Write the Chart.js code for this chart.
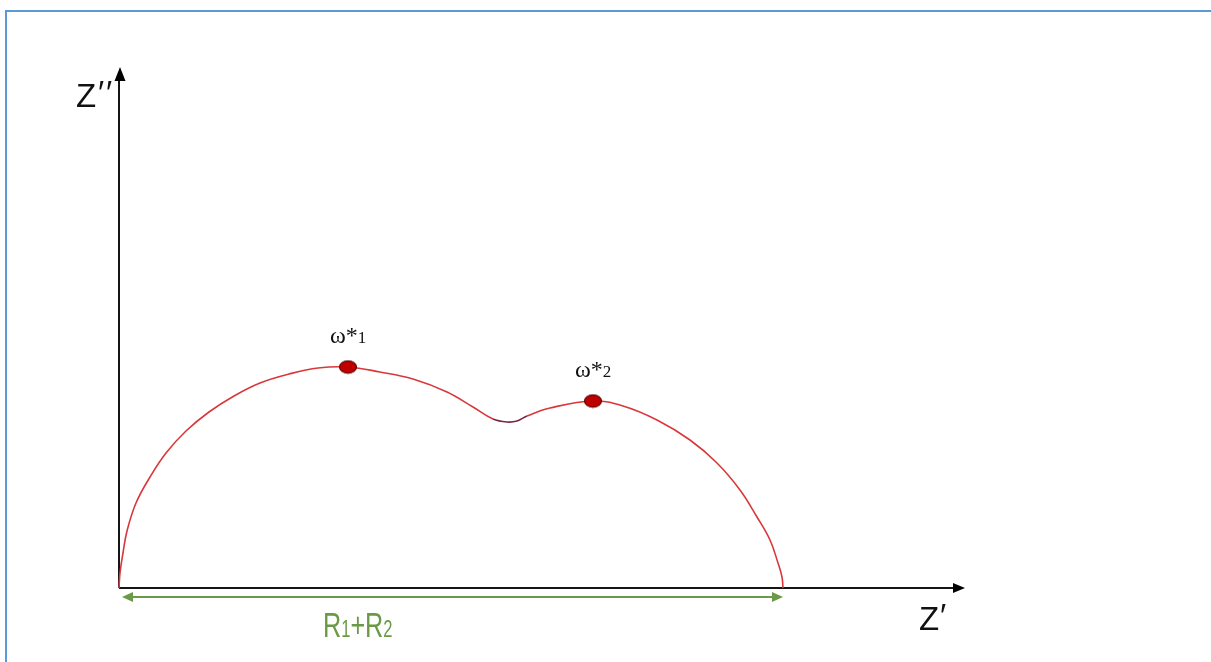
<!DOCTYPE html>
<html>
<head>
<meta charset="utf-8">
<script src="https://cdn.jsdelivr.net/npm/chart.js@4"></script>
<style>
  html, body { margin: 0; padding: 0; background: #fff; }
  #wrap { position: relative; width: 1211px; height: 662px; }
</style>
</head>
<body>
<div id="wrap"><canvas id="nyquist"></canvas></div>
<script>
// Nyquist curve, two depressed arcs (Z' , Z'')
const zReal = [0, 1, 4, 8, 17, 31, 47, 67, 90, 115, 141, 170, 199, 229, 261, 294, 328, 354, 374, 388, 398, 408, 431, 474, 504, 538, 571, 598, 621, 638, 651, 659, 663, 664];
const zImag = [0, 15, 35, 57, 85, 111, 135, 157, 176, 192, 205, 214, 220, 221, 216, 209, 196, 181, 169, 166, 167, 172, 180, 187, 182, 168, 148, 125, 98, 71, 48, 25, 11, 0];

// characteristic frequencies (top of each arc)
const peakReal = [229, 474];
const peakImag = [221, 187];
const peakLabels = ['1', '2'];

// R1 + R2 : low-frequency intercept
const rTotal = 664;

const xMax = 846;
const yMax = 521;

const red = '#D8383A';
const green = '#6A9A46';
const frameBlue = '#5B9BD5';

// elliptical marker
const dot = document.createElement('canvas');
dot.width = 20; dot.height = 15;
(function () {
  const c = dot.getContext('2d');
  c.beginPath();
  c.ellipse(10, 7.5, 8.5, 6.2, 0, 0, Math.PI * 2);
  c.fillStyle = '#C00000';
  c.fill();
  c.lineWidth = 1.2;
  c.strokeStyle = '#5A0A0A';
  c.stroke();
})();

function arrowHead(ctx, x, y, dir, len, half) {
  ctx.beginPath();
  if (dir === 'up') {
    ctx.moveTo(x, y); ctx.lineTo(x - half, y + len); ctx.lineTo(x + half, y + len);
  } else if (dir === 'right') {
    ctx.moveTo(x, y); ctx.lineTo(x - len, y - half); ctx.lineTo(x - len, y + half);
  } else {
    ctx.moveTo(x, y); ctx.lineTo(x + len, y - half); ctx.lineTo(x + len, y + half);
  }
  ctx.closePath();
  ctx.fill();
}

const decor = {
  id: 'decor',
  beforeDatasetsDraw(chart) {
    const ctx = chart.ctx;
    const xs = chart.scales.x, ys = chart.scales.y;
    const x0 = xs.getPixelForValue(0), y0 = ys.getPixelForValue(0);
    const xEnd = xs.getPixelForValue(xMax), yEnd = ys.getPixelForValue(yMax);
    ctx.save();

    // frame
    ctx.fillStyle = frameBlue;
    ctx.fillRect(5, 10, chart.width - 5, 2);
    ctx.fillRect(5, 10, 2, chart.height - 10);

    // axes
    ctx.strokeStyle = '#151515';
    ctx.fillStyle = '#000';
    ctx.lineWidth = 2;
    ctx.beginPath();
    ctx.moveTo(x0, y0); ctx.lineTo(x0, yEnd + 10);
    ctx.moveTo(x0, y0); ctx.lineTo(xEnd - 10, y0);
    ctx.stroke();
    arrowHead(ctx, x0 + 1, yEnd, 'up', 14, 5.5);
    arrowHead(ctx, xEnd, y0, 'right', 12, 5);

    // R1+R2 dimension arrow
    const ga = y0 + 9;
    const gx1 = xs.getPixelForValue(rTotal);
    ctx.strokeStyle = green;
    ctx.fillStyle = green;
    ctx.lineWidth = 2;
    ctx.beginPath();
    ctx.moveTo(x0 + 8, ga); ctx.lineTo(gx1 - 8, ga);
    ctx.stroke();
    arrowHead(ctx, x0 + 3, ga, 'left', 11, 5);
    arrowHead(ctx, gx1, ga, 'right', 11, 5);

    // axis titles
    ctx.fillStyle = '#111';
    ctx.textBaseline = 'alphabetic';
    ctx.font = '33px "Liberation Sans", Arial, sans-serif';
    ctx.fillText('Z', 76, 107);
    ctx.fillText('\u2032', 98, 104);
    ctx.fillText('\u2032', 106, 104);
    ctx.fillText('Z', 919, 630);
    ctx.fillText('\u2032', 940, 627);

    // R1+R2 label, narrow lettering
    ctx.save();
    ctx.translate(323, 637);
    ctx.scale(0.72, 1);
    ctx.fillStyle = green;
    let cx = 0;
    const big = '35px "Liberation Sans", Arial, sans-serif';
    const small = '23px "Liberation Sans", Arial, sans-serif';
    [['R', big], ['1', small], ['+', big], ['R', big], ['2', small]].forEach(([t, f]) => {
      ctx.font = f;
      ctx.fillText(t, cx, 0);
      cx += ctx.measureText(t).width;
    });
    ctx.restore();

    ctx.restore();
  },
  afterDatasetsDraw(chart) {
    const ctx = chart.ctx;
    const pts = chart.getDatasetMeta(1).data;
    ctx.save();
    ctx.fillStyle = '#111';
    ctx.textBaseline = 'alphabetic';
    pts.forEach((p, i) => {
      const left = p.x - 18;
      const base = p.y - 24;
      ctx.font = '24px "Liberation Serif", "Times New Roman", serif';
      ctx.fillText('\u03c9*', left, base);
      const w = ctx.measureText('\u03c9*').width;
      ctx.font = '17px "Liberation Serif", "Times New Roman", serif';
      ctx.fillText(peakLabels[i], left + w, base);
    });
    ctx.restore();
  }
};

new Chart(document.getElementById('nyquist'), {
  type: 'scatter',
  data: {
    datasets: [{
      data: zReal.map((x, i) => ({ x, y: zImag[i] })),
      order: 1,
      showLine: true,
      borderColor: red,
      borderWidth: 1.6,
      pointRadius: 0,
      tension: 0.4,
      clip: false,
      segment: {
        borderColor: c => (c.p0.parsed.x >= 374 && c.p1.parsed.x <= 408) ? '#7A2848' : red
      }
    }, {
      data: peakReal.map((x, i) => ({ x, y: peakImag[i] })),
      order: 0,
      pointStyle: dot,
      clip: false
    }]
  },
  options: {
    responsive: true,
    maintainAspectRatio: false,
    animation: false,
    events: [],
    layout: { padding: { left: 119, top: 67, right: 246, bottom: 74 } },
    elements: { line: { capBezierPoints: false } },
    plugins: {
      legend: { display: false },
      tooltip: { enabled: false }
    },
    scales: {
      x: { type: 'linear', display: false, min: 0, max: xMax },
      y: { type: 'linear', display: false, min: 0, max: yMax }
    }
  },
  plugins: [decor]
});
</script>
</body>
</html>
